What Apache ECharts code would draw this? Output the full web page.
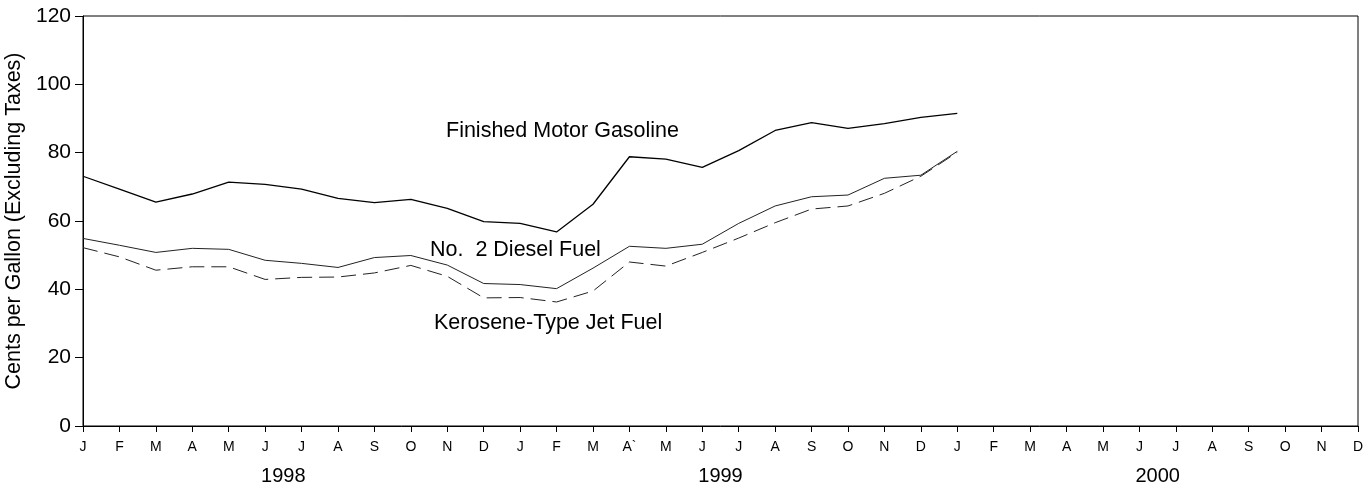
<!DOCTYPE html>
<html>
<head>
<meta charset="utf-8">
<script src="https://cdn.jsdelivr.net/npm/echarts@6/dist/echarts.min.js"></script>
<style>
  html, body { margin: 0; padding: 0; background: #fff; }
  #chart { width: 1372px; height: 489px; }
</style>
</head>
<body>
<div id="chart"></div>
<script>
// Month tick labels, Jan 1998 through Dec 2000
const months = ['J','F','M','A','M','J','J','A','S','O','N','D',
                'J','F','M','A`','M','J','J','A','S','O','N','D',
                'J','F','M','A','M','J','J','A','S','O','N','D'];
const years = ['1998', '1999', '2000'];
// Year labels sit midway between June and July of each year (month index)
const yearCenters = [5.5, 17.5, 29.5];
const yTicks = [0, 20, 40, 60, 80, 100, 120];

// Monthly prices, cents per gallon excluding taxes (Jan 1998 - Jan 2000)
const gasoline = [73.1, 69.3, 65.5, 67.9, 71.4, 70.7, 69.3, 66.6, 65.4, 66.3, 63.7, 59.8,
                  59.3, 56.8, 64.9, 78.8, 78.1, 75.7, 80.6, 86.5, 88.8, 87.1, 88.5, 90.3,
                  91.5];
const diesel   = [54.9, 52.9, 50.8, 52.0, 51.7, 48.5, 47.6, 46.4, 49.3, 49.9, 47.1, 41.7,
                  41.4, 40.2, 46.2, 52.6, 52.0, 53.2, 59.3, 64.4, 67.1, 67.6, 72.5, 73.4,
                  80.4];
const jetFuel  = [52.2, 49.5, 45.6, 46.6, 46.6, 42.9, 43.5, 43.6, 44.8, 47.0, 43.8, 37.5,
                  37.6, 36.3, 39.5, 48.0, 46.8, 50.8, 55.0, 59.5, 63.5, 64.4, 68.1, 73.1,
                  80.1];

const FONT = '"Liberation Sans", Arial, Helvetica, sans-serif';
const chart = echarts.init(document.getElementById('chart'), null, { renderer: 'canvas' });

chart.setOption({
  animation: false,
  backgroundColor: '#fff',
  textStyle: { fontFamily: FONT, color: '#000' },
  grid: {
    left: 83, right: 14, top: 16, bottom: 63,
    containLabel: false,
    outerBoundsMode: 'none',
    show: true, borderColor: '#000', borderWidth: 1, backgroundColor: 'transparent'
  },
  xAxis: [
    {
      type: 'category',
      data: months,
      boundaryGap: false,
      axisLine: { lineStyle: { color: '#000', width: 1 } },
      axisTick: { show: true, length: 6, interval: 0, lineStyle: { color: '#000', width: 1 } },
      axisLabel: { interval: 0, color: '#000', fontSize: 14, fontFamily: FONT, margin: 14 },
      splitLine: { show: false }
    },
    {
      type: 'value',
      min: 0,
      max: months.length - 1,
      position: 'bottom',
      axisLine: { show: false },
      axisTick: { show: false },
      splitLine: { show: false },
      axisLabel: {
        customValues: yearCenters,
        formatter: v => years[yearCenters.indexOf(v)] || '',
        color: '#000', fontSize: 20, fontFamily: FONT, margin: 40
      }
    }
  ],
  yAxis: {
    type: 'value',
    min: yTicks[0],
    max: yTicks[yTicks.length - 1],
    interval: yTicks[1] - yTicks[0],
    axisLine: { show: true, lineStyle: { color: '#000', width: 1 } },
    axisTick: { show: true, length: 8, lineStyle: { color: '#000', width: 1 } },
    axisLabel: { color: '#000', fontSize: 21, fontFamily: FONT, margin: 12 },
    splitLine: { show: false },
    name: 'Cents per Gallon (Excluding Taxes)',
    nameLocation: 'middle',
    nameGap: 56,
    nameTextStyle: { color: '#000', fontSize: 21.5, fontFamily: FONT }
  },
  series: [
    {
      name: 'Finished Motor Gasoline',
      type: 'line',
      data: gasoline,
      symbol: 'none',
      lineStyle: { color: '#000', width: 1.3 }
    },
    {
      name: 'No. 2 Diesel Fuel',
      type: 'line',
      data: diesel,
      symbol: 'none',
      lineStyle: { color: '#222', width: 1 }
    },
    {
      name: 'Kerosene-Type Jet Fuel',
      type: 'line',
      data: jetFuel,
      symbol: 'none',
      lineStyle: { color: '#222', width: 1, type: [15, 7] }
    }
  ],
  graphic: [
    { type: 'text', left: 446, top: 120,
      style: { text: 'Finished Motor Gasoline', font: '21.5px ' + FONT, fill: '#000' } },
    { type: 'text', left: 430, top: 239,
      style: { text: 'No.  2 Diesel Fuel', font: '21.5px ' + FONT, fill: '#000' } },
    { type: 'text', left: 434, top: 312,
      style: { text: 'Kerosene-Type Jet Fuel', font: '21.5px ' + FONT, fill: '#000' } }
  ]
});
</script>
</body>
</html>
